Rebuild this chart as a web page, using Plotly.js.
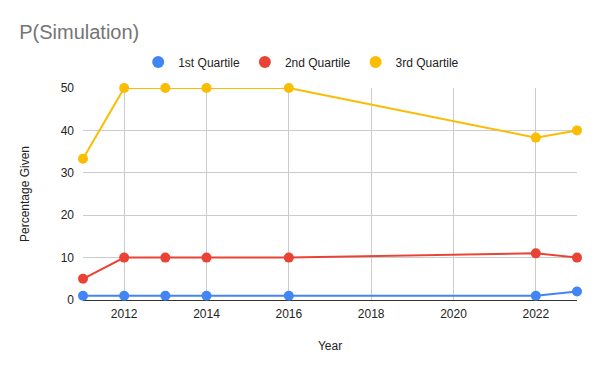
<!DOCTYPE html>
<html><head><meta charset="utf-8">
<script src="https://cdn.plot.ly/plotly-3.0.1.min.js"></script>
<style>html,body{margin:0;padding:0;background:#fff}#chart{width:600px;height:371px}</style>
</head><body><div id="chart"></div>
<script>
const years = [2011, 2012, 2013, 2014, 2016, 2022, 2023];
const q1 = [1, 1, 1, 1, 1, 1, 2];
const q2 = [5, 10, 10, 10, 10, 11, 10];
const q3 = [33.3, 50, 50, 50, 50, 38.3, 40];
const names = ['1st Quartile', '2nd Quartile', '3rd Quartile'];
const colors = ['#4285F4', '#EA4335', '#FBBC04'];
const series = [q1, q2, q3];
const FONT = 'Arial, "Liberation Sans", sans-serif';
const traces = [];
series.forEach((s, i) => {
  traces.push({x: years, y: s, type: 'scatter', mode: 'lines+markers', name: names[i],
    line: {color: colors[i], width: 2}, marker: {color: colors[i], size: 10}, showlegend: false, cliponaxis: false});
});
series.forEach((s, i) => {
  traces.push({x: [null], y: [null], type: 'scatter', mode: 'markers', name: names[i],
    marker: {color: colors[i], size: 12}, showlegend: true});
});
Plotly.newPlot('chart', traces, {
  width: 600, height: 371,
  margin: {l: 83, r: 23, t: 88, b: 71},
  paper_bgcolor: '#fff', plot_bgcolor: '#fff',
  font: {family: FONT, size: 12, color: '#222'},
  title: {text: 'P(Simulation)', x: 0.032, xanchor: 'left', y: 0.915, yanchor: 'middle',
    font: {size: 20, color: '#757575', family: FONT}},
  legend: {orientation: 'h', xref: 'container', x: 0.502, xanchor: 'center', yref: 'container', y: 0.833, yanchor: 'middle',
    font: {size: 12, color: '#222', family: FONT}, itemwidth: 30},
  xaxis: {range: [2011, 2023], tickvals: [2012, 2014, 2016, 2018, 2020, 2022],
    showgrid: true, gridcolor: '#cccccc', zeroline: false, showline: false, ticks: '',
    ticklabelstandoff: 5,
    title: {text: 'Year', font: {size: 12, color: '#222'}, standoff: 21},
    tickfont: {size: 12, color: '#222'}},
  yaxis: {range: [0, 50], tickvals: [0, 10, 20, 30, 40, 50], showgrid: true, gridcolor: '#cccccc',
    zeroline: true, zerolinecolor: '#333', zerolinewidth: 1, ticks: '', showline: false,
    ticklabelstandoff: 8,
    title: {text: 'Percentage Given', font: {size: 12, color: '#222'}, standoff: 28},
    tickfont: {size: 12, color: '#222'}}
}, {displayModeBar: false});
</script></body></html>
